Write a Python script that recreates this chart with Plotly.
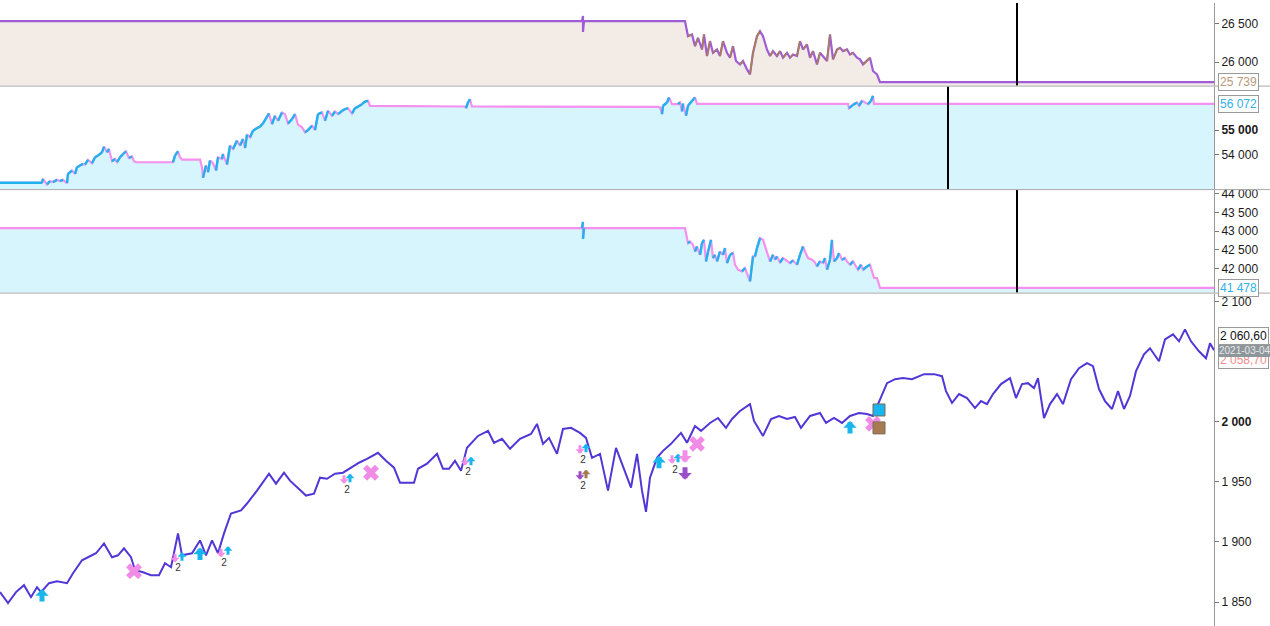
import plotly.graph_objects as go

# ---------------- data ----------------
# main instrument (bottom panel): bar number -> close
price_bar = [0,8,16,24,31,37,41,49,57,67,73,82,88,96,104,112,118,124,131,135,143,151,159,165,171,178,182,192,200,206,
             212,218,224,231,241,247,257,269,276,284,290,298,306,314,320,327,335,343,351,359,367,378,386,394,400,408,414,418,427,437,
             443,449,455,461,467,478,488,494,502,510,520,531,537,543,549,557,563,571,580,586,592,600,608,616,622,631,637,642,646,650,
             657,663,671,681,687,695,701,710,718,726,732,740,750,754,763,771,779,787,795,801,810,820,826,834,842,850,859,867,873,879,
             887,895,903,912,924,934,942,946,952,959,967,975,981,987,993,1001,1010,1016,1022,1028,1034,1038,1044,1050,1057,1063,1071,1079,1087,1093,
             1099,1105,1112,1118,1124,1130,1136,1144,1150,1159,1165,1173,1179,1185,1191,1199,1206,1210,1214]
price_close = [1858.3,1849.2,1858.3,1864.1,1854.1,1862.4,1858.3,1865.7,1867.4,1865.7,
               1874.0,1884.8,1887.3,1890.6,1898.8,1887.3,1888.9,1894.7,1887.3,1876.5,
               1874.8,1872.4,1872.4,1882.3,1879.0,1907.1,1888.9,1890.6,1901.3,1888.9,
               1901.3,1890.6,1907.1,1923.7,1926.2,1932.0,1942.7,1956.8,1948.5,1957.6,
               1951.0,1945.2,1938.6,1940.2,1953.5,1952.6,1956.8,1957.6,1961.8,1965.9,
               1969.2,1974.2,1967.5,1961.8,1949.3,1949.3,1949.3,1960.9,1965.1,1973.3,
               1960.9,1960.9,1967.5,1959.3,1978.3,1988.2,1992.4,1982.5,1985.8,1977.5,
               1985.8,1989.9,1998.2,1981.6,1986.6,1973.3,1994.0,1994.9,1990.7,1986.6,
               1970.0,1973.3,1942.7,1978.3,1965.1,1945.2,1973.3,1942.7,1925.0,1953.5,
               1970.0,1975.8,1981.6,1990.7,1982.5,1996.5,1992.4,1999.0,2003.1,1994.9,
               2002.3,2008.9,2014.7,2000.7,1988.2,2002.3,2004.8,2002.3,2004.0,1994.9,
               2004.8,2007.3,1999.0,2003.1,1999.0,2004.8,2007.3,2006.5,2004.8,2017.2,
               2032.1,2035.4,2036.3,2035.4,2039.6,2039.6,2037.9,2025.5,2015.6,2023.0,
               2019.7,2011.4,2017.2,2014.7,2023.0,2031.3,2036.3,2019.7,2031.3,2032.1,
               2028.0,2036.3,2003.1,2014.7,2023.0,2014.7,2035.4,2044.5,2048.7,2046.2,
               2027.2,2017.2,2010.6,2025.5,2010.6,2021.4,2042.1,2056.1,2061.1,2050.3,
               2068.5,2072.7,2066.9,2076.8,2066.9,2058.6,2052.8,2065.2,2059.4]

# indicator panel 1
p1_bar = [0,582,583,583,584,685,688,692,695,698,702,704,707,710,713,717,720,723,727,730,733,736,740,743,747,
          750,753,757,760,763,767,770,773,777,780,783,787,790,793,797,800,803,807,810,813,817,820,823,827,830,
          833,837,840,843,847,850,853,857,860,863,867,870,873,877,880,1214]
p1_val = [26531,26531,26600,26392,26531,26531,26337,26358,26207,26315,26163,26358,26078,26272,26120,26163,26078,26272,26120,26056,
          26207,26013,25969,26013,25904,25839,26120,26337,26402,26337,26163,26078,26142,26078,26142,26056,26120,26056,26098,26078,
          26272,26163,26228,26056,26142,25969,26120,26078,26013,26358,26034,26163,26185,26142,26163,26098,26120,26056,26034,25969,
          26013,26056,25883,25839,25739,25739]

# indicator panel 2
p2_bar = [0,42,43,47,50,53,57,60,63,67,68,72,75,77,80,83,85,88,92,95,98,102,104,107,109,112,115,117,120,123,
          126,129,132,134,136,173,175,178,180,182,200,202,203,206,208,210,213,216,218,222,223,227,230,233,237,240,243,245,247,250,
          253,257,260,263,267,269,272,275,278,282,285,288,292,295,298,302,305,308,312,315,318,322,325,328,332,335,338,342,345,348,
          352,355,358,362,365,368,370,465,466,468,470,472,658,660,662,663,667,669,672,678,680,682,683,686,688,692,695,697,848,849,
          853,857,859,862,865,868,871,873,874,1214]
p2_val = [52846,52846,53008,52780,52915,52874,52967,52915,52967,52833,53211,53350,53211,53484,53553,53618,53593,53780,53646,53890,
          53959,54093,54325,54093,54228,53728,53821,53687,53890,54024,54134,53862,53919,53728,53687,53687,53959,54134,53890,53797,
          53797,53484,53049,53553,53280,53756,53646,53350,53890,53821,54024,53593,54366,54228,54569,54366,54634,54268,54813,54703,
          54976,55081,55138,55272,55545,55679,55244,55585,55382,55720,55650,55272,55447,55650,55220,55110,54907,55000,55179,55000,
          55650,55720,55382,55789,55585,55760,55650,55789,55854,55894,55679,55894,55951,56057,56167,56195,55992,55963,55894,56126,
          56260,55963,55951,55923,55650,55992,56126,56329,56057,56057,56126,55760,56085,55585,55992,56195,56329,56072,56072,55894,
          56030,56126,55992,56195,56126,56057,56195,56398,56072,56072]

# indicator panel 3
p3_bar = [0,582,583,583,584,685,688,690,693,695,697,700,702,704,706,708,711,713,715,717,720,723,725,727,730,
          733,735,738,742,745,747,750,753,755,757,760,763,767,770,773,775,777,780,783,787,790,793,797,800,803,
          805,808,812,815,817,820,823,825,827,830,832,834,837,839,842,845,847,850,853,856,858,861,863,867,870,
          872,874,877,880,1214]
p3_val = [43080,43080,43249,42794,43080,43080,42679,42722,42634,42455,42588,42366,42679,42767,42187,42455,42767,42278,42366,42187,
          42455,42366,42545,42144,42366,42412,42099,41965,41920,42011,41877,41652,42321,42321,42545,42813,42767,42455,42187,42366,
          42233,42321,42160,42278,42187,42144,42214,42099,42366,42588,42455,42278,42233,42160,42053,42187,42144,42278,41965,42233,
          42767,42187,42278,42412,42233,42278,42187,42099,42187,42053,41965,42099,41965,42053,42099,41920,41743,41743,41478,41478]

# trading signals on the price panel
sig_bar = [42,175,182,200,221,228,344,350,465,471,580,586,580,586,659,672,678,685,685,850]
sig_price = [1860.8,1883.1,1891.4,1895.5,1887.3,1896.4,1948.5,1956.8,1963.4,1970.9,
             1973.3,1981.6,1951.8,1960.1,1971.7,1965.1,1973.3,1965.9,1951.8,2000.7]
sig_kind = ['buy','sell','buy','buy','sell','buy','sell','buy','sell','buy',
            'sell','buy','short','cover','buy','sell','buy','sell','short','buy']
sig_strength = ['strong','weak','weak','strong','weak','weak','weak','weak','weak','weak',
                'weak','weak','weak','weak','strong','weak','weak','strong','strong','strong']
exit_bar = [134,371,697,873]
exit_price = [1875.7,1957.6,1981.6,1998.2]
stop_bar = [879,879]
stop_price = [2009.8,1994.9]
stop_kind = ['long','short']
count_bar = [178,224,347,468,583,583,675]
count_price = [1878.1,1882.3,1942.7,1957.6,1967.5,1946.0,1959.3]
count_text = ['2','2','2','2','2','2','2']

cursor_bars = {'y': 1017, 'y2': 948, 'y3': 1017}
last_labels = ['25 739', '56 072', '41 478']
price_labels = ['2 060,60', '2021-03-04', '2 058,70']

# ---------------- styles ----------------
FONT = 'Liberation Sans, Arial, sans-serif'
H = 626
def dom(top_px, bot_px):
    return [1 - bot_px / H, 1 - top_px / H]

def rising(xs, ys):
    sx, sy = [], []
    for i in range(1, len(xs)):
        if ys[i] > ys[i - 1]:
            sx += [xs[i - 1], xs[i], None]
            sy += [ys[i - 1], ys[i], None]
    return sx, sy

fig = go.Figure()

# panel 1
fig.add_trace(go.Scatter(x=p1_bar, y=p1_val, mode='lines', yaxis='y',
                         line=dict(color='#a05bd6', width=2.2), fill='tozeroy', fillcolor='#f3ece6', hoverinfo='skip'))
rx, ry = rising(p1_bar[5:-1], p1_val[5:-1])
fig.add_trace(go.Scatter(x=rx, y=ry, mode='lines', yaxis='y', line=dict(color='#a8814f', width=1.6), hoverinfo='skip'))

# panel 2
fig.add_trace(go.Scatter(x=p2_bar, y=p2_val, mode='lines', yaxis='y2',
                         line=dict(color='#f590ee', width=2.2), fill='tozeroy', fillcolor='#d6f5fd', hoverinfo='skip'))
rx, ry = rising(p2_bar, p2_val)
fig.add_trace(go.Scatter(x=rx, y=ry, mode='lines', yaxis='y2', line=dict(color='#1fb2ef', width=2.4), hoverinfo='skip'))
fig.add_trace(go.Scatter(x=p2_bar[:2], y=p2_val[:2], mode='lines', yaxis='y2', line=dict(color='#1fb2ef', width=2.4), hoverinfo='skip'))

# panel 3
fig.add_trace(go.Scatter(x=p3_bar, y=p3_val, mode='lines', yaxis='y3',
                         line=dict(color='#f590ee', width=2.2), fill='tozeroy', fillcolor='#d6f5fd', hoverinfo='skip'))
rx, ry = rising(p3_bar, p3_val)
fig.add_trace(go.Scatter(x=rx, y=ry, mode='lines', yaxis='y3', line=dict(color='#1fb2ef', width=2.4), hoverinfo='skip'))

# panel 4 price
fig.add_trace(go.Scatter(x=price_bar, y=price_close, mode='lines', yaxis='y4',
                         line=dict(color='#5236d6', width=2), hoverinfo='skip'))

# exits (X) and stops (squares)
fig.add_trace(go.Scatter(x=exit_bar, y=exit_price, mode='markers', yaxis='y4',
                         marker=dict(symbol='x', size=14, color='#f08be6', line=dict(width=0)), hoverinfo='skip'))
stop_colors = {'long': '#19b5ee', 'short': '#a87a50'}
fig.add_trace(go.Scatter(x=stop_bar, y=stop_price, mode='markers', yaxis='y4',
                         marker=dict(symbol='square', size=12, color=[stop_colors[k] for k in stop_kind],
                                     line=dict(width=1, color='#7a6a5a')), hoverinfo='skip'))
fig.add_trace(go.Scatter(x=count_bar, y=count_price, mode='text', yaxis='y4', text=count_text,
                         textfont=dict(family=FONT, size=10, color='#333'), hoverinfo='skip'))

annotations = []
kind_style = {'buy': ('#19b5ee', 1), 'sell': ('#f28ee8', -1), 'short': ('#9a4fc8', -1), 'cover': ('#a57a4f', 1)}
for b, p, k, s in zip(sig_bar, sig_price, sig_kind, sig_strength):
    col, d = kind_style[k]
    L, w, a = (14, 5, 0.45) if s == 'strong' else (10, 3, 0.5)
    annotations.append(dict(x=b, y=p, xref='x', yref='y4', text='', showarrow=True,
                            ax=0, ay=d * L, arrowhead=1, arrowsize=a, arrowwidth=w,
                            arrowcolor=col, standoff=0))

def value_label(text, yref, yval, color, yshift=0, bg='white', size=12, border='#9a9a9a', pad=1):
    annotations.append(dict(x=1, xref='paper', xanchor='left', xshift=4, y=yval, yref=yref,
                            yshift=yshift, text=text, showarrow=False, font=dict(family=FONT, size=size, color=color),
                            bgcolor=bg, bordercolor=border, borderwidth=1, borderpad=pad))

value_label(last_labels[0], 'y', p1_val[-1], '#b89a7c')
value_label(last_labels[1], 'y2', p2_val[-1], '#2fb0e6')
value_label(last_labels[2], 'y3', p3_val[-1], '#2fb0e6')
value_label(price_labels[2], 'y4', price_close[-1], '#f28c8c', yshift=-10)
value_label(price_labels[1], 'y4', price_close[-1], '#e8e8e8', bg='#8d979b', size=10, border='#8d979b', pad=0)
value_label(price_labels[0], 'y4', price_close[-1], '#111', yshift=14)

shapes = []
for yr, b in cursor_bars.items():
    shapes.append(dict(type='line', xref='x', yref=yr + ' domain', x0=b, x1=b, y0=0, y1=1,
                       line=dict(color='black', width=2)))
for py in [83.5, 187.5, 291.5]:
    shapes.append(dict(type='line', xref='paper', yref='paper', x0=0, x1=1270 / 1214,
                       y0=1 - py / H, y1=1 - py / H, line=dict(color='#a8a8a8', width=1)))

def yax(domain, rng, vals, texts):
    return dict(domain=domain, range=rng, side='right', anchor='x', tickvals=vals, ticktext=texts,
                showgrid=False, zeroline=False, showline=True, linecolor='#9a9a9a', linewidth=1,
                ticks='outside', ticklen=4, tickcolor='#777',
                tickfont=dict(family=FONT, size=12, color='#1a1a1a'), fixedrange=True)

fig.update_layout(
    width=1270, height=626,
    margin=dict(l=0, r=56, t=0, b=0),
    paper_bgcolor='white', plot_bgcolor='white', showlegend=False,
    xaxis=dict(domain=[0, 1], range=[0, 1214], visible=False, fixedrange=True),
    yaxis=yax(dom(0, 83), [25693, 26768], [26000, 26500], ['26 000', '26 500']),
    yaxis2=yax(dom(84, 187), [52589, 56776], [54000, 55000], ['54 000', '<b>55 000</b>']),
    yaxis3=yax(dom(188, 291), [41350, 44104], [42000, 42500, 43000, 43500, 44000],
               ['42 000', '42 500', '43 000', '43 500', '44 000']),
    yaxis4=yax(dom(292, 626), [1830.1, 2106.6], [1850, 1900, 1950, 2000, 2100],
               ['1 850', '1 900', '1 950', '<b>2 000</b>', '2 100']),
    annotations=annotations, shapes=shapes,
)

fig.write_html('out.html', config={'displayModeBar': False},
               post_script="document.body.style.margin='0';document.body.style.overflow='hidden';")
